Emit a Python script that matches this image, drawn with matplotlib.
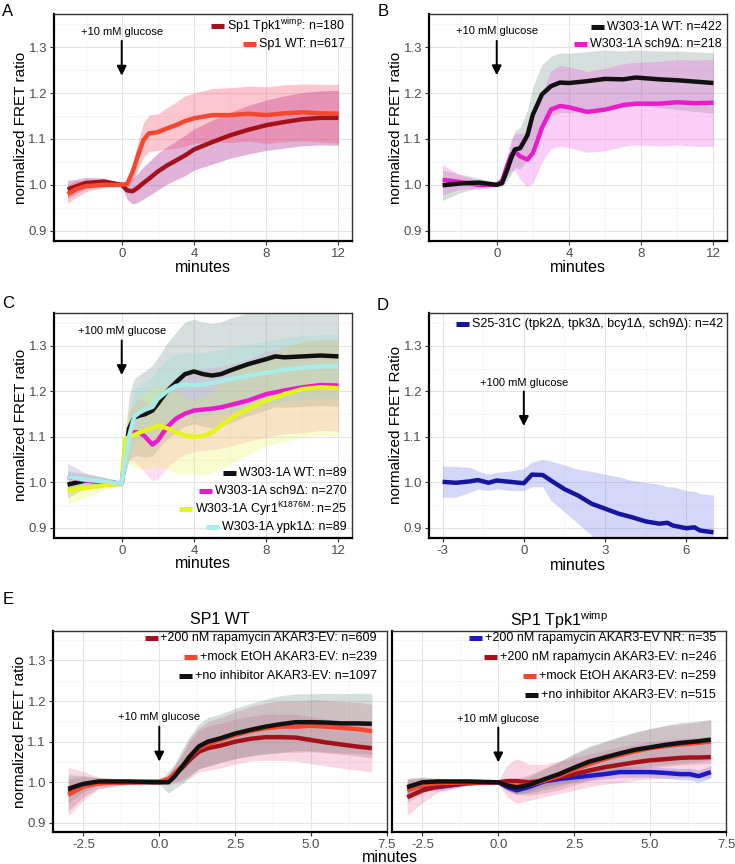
import matplotlib
matplotlib.use("Agg")
import matplotlib.pyplot as plt
import numpy as np
from matplotlib.ticker import FixedLocator
from matplotlib.lines import Line2D

plt.rcParams['font.family'] = ['Liberation Sans', 'DejaVu Sans']
plt.rcParams['mathtext.default'] = 'regular'
plt.rcParams['axes.unicode_minus'] = False

# ---------------- data ----------------
# panel A
tA = [-3, -2.5, -2, -1, 0, 0.3, 0.6, 0.9, 1.2, 1.5, 2, 2.5, 3, 3.5, 4, 5, 6, 7, 8, 9, 10, 11, 12]
a_tpk1 = [0.990, 0.997, 1.004, 1.007, 1.000, 0.988, 0.986, 0.994, 1.004, 1.013, 1.029, 1.042, 1.053,
          1.064, 1.077, 1.093, 1.108, 1.120, 1.130, 1.137, 1.143, 1.146, 1.146]
a_tpk1_err = [0.02, 0.015, 0.012, 0.008, 0.004, 0.02, 0.028, 0.032, 0.035, 0.037, 0.04, 0.041, 0.042,
              0.044, 0.045, 0.048, 0.05, 0.053, 0.055, 0.057, 0.058, 0.059, 0.06]
a_wt = [0.980, 0.991, 0.997, 1.000, 1.000, 1.002, 1.028, 1.064, 1.097, 1.112, 1.115, 1.123, 1.130,
        1.139, 1.145, 1.152, 1.152, 1.155, 1.152, 1.156, 1.158, 1.156, 1.155]
a_wt_err = [0.02, 0.018, 0.012, 0.006, 0.003, 0.006, 0.02, 0.03, 0.038, 0.04, 0.04, 0.045, 0.05,
            0.055, 0.055, 0.058, 0.06, 0.06, 0.062, 0.062, 0.062, 0.063, 0.064]

# panel B
tB = [-3, -2, -1, 0, 0.3, 0.6, 0.8, 1, 1.3, 1.7, 2, 2.5, 3, 3.5, 4, 5, 6, 7, 7.7, 9, 10, 11, 12]
b_wt = [0.999, 1.003, 1.005, 1.000, 1.004, 1.035, 1.058, 1.077, 1.080, 1.108, 1.153, 1.197, 1.215,
        1.223, 1.222, 1.226, 1.231, 1.230, 1.234, 1.230, 1.228, 1.225, 1.222]
b_wt_err = [0.033, 0.02, 0.01, 0.004, 0.008, 0.025, 0.035, 0.04, 0.045, 0.055, 0.06, 0.065, 0.065,
            0.065, 0.065, 0.065, 0.063, 0.062, 0.06, 0.062, 0.064, 0.065, 0.066]
b_sch9 = [1.011, 1.006, 1.000, 1.000, 1.009, 1.044, 1.065, 1.072, 1.062, 1.055, 1.069, 1.124, 1.164,
          1.172, 1.169, 1.159, 1.164, 1.174, 1.177, 1.177, 1.180, 1.178, 1.179]
b_sch9_err = [0.033, 0.015, 0.01, 0.004, 0.01, 0.025, 0.035, 0.04, 0.05, 0.06, 0.065, 0.075, 0.085,
              0.088, 0.088, 0.088, 0.09, 0.09, 0.09, 0.092, 0.093, 0.094, 0.095]

# panel C
tC = [-3, -2, -1, 0, 0.2, 0.4, 0.7, 1, 1.3, 1.7, 2, 2.5, 3, 3.5, 4, 4.5, 5, 5.5, 6, 7, 8, 8.5, 9, 10, 11, 12]
c_wt = [0.995, 1.004, 1.001, 0.997, 1.059, 1.118, 1.143, 1.147, 1.150, 1.158, 1.173, 1.200, 1.220,
        1.238, 1.244, 1.238, 1.235, 1.238, 1.246, 1.260, 1.271, 1.277, 1.275, 1.277, 1.279, 1.277]
c_wt_err = [0.03, 0.015, 0.01, 0.005, 0.04, 0.07, 0.085, 0.09, 0.095, 0.1, 0.1, 0.105, 0.11, 0.115,
            0.115, 0.115, 0.115, 0.115, 0.115, 0.113, 0.112, 0.111, 0.11, 0.11, 0.11, 0.11]
c_sch9 = [1.012, 1.004, 1.000, 0.997, 1.075, 1.100, 1.110, 1.110, 1.100, 1.083, 1.092, 1.121, 1.140,
          1.151, 1.158, 1.160, 1.162, 1.165, 1.170, 1.180, 1.194, 1.198, 1.202, 1.209, 1.214, 1.213]
c_sch9_err = [0.03, 0.015, 0.01, 0.005, 0.03, 0.05, 0.065, 0.075, 0.08, 0.08, 0.085, 0.09, 0.09, 0.09,
              0.09, 0.09, 0.09, 0.09, 0.09, 0.09, 0.095, 0.095, 0.095, 0.1, 0.1, 0.1]
c_cyr1 = [0.982, 0.988, 0.993, 0.997, 1.095, 1.100, 1.104, 1.110, 1.114, 1.120, 1.125, 1.119, 1.110,
          1.103, 1.100, 1.102, 1.110, 1.125, 1.140, 1.162, 1.180, 1.187, 1.194, 1.205, 1.209, 1.207]
c_cyr1_err = [0.03, 0.02, 0.01, 0.005, 0.05, 0.06, 0.07, 0.08, 0.085, 0.09, 0.09, 0.09, 0.09, 0.085,
              0.08, 0.085, 0.09, 0.095, 0.1, 0.1, 0.1, 0.1, 0.105, 0.105, 0.105, 0.105]
c_ypk1 = [1.012, 1.006, 1.002, 0.997, 1.050, 1.100, 1.145, 1.154, 1.160, 1.166, 1.184, 1.200, 1.212,
          1.215, 1.213, 1.215, 1.219, 1.223, 1.227, 1.234, 1.241, 1.244, 1.248, 1.252, 1.255, 1.255]
c_ypk1_err = [0.03, 0.015, 0.01, 0.005, 0.03, 0.05, 0.06, 0.06, 0.06, 0.065, 0.065, 0.07, 0.07, 0.07,
              0.07, 0.07, 0.07, 0.07, 0.07, 0.07, 0.07, 0.07, 0.07, 0.07, 0.07, 0.07]

# panel D
tD = [-3, -2.5, -2, -1.7, -1.3, -1, -0.5, 0, 0.3, 0.7, 1, 1.5, 2, 2.5, 3, 3.5, 4, 4.5, 5, 5.3, 5.5,
      6, 6.3, 6.5, 7]
d_s25 = [1.001, 0.999, 1.002, 1.005, 0.999, 1.004, 1.001, 0.998, 1.017, 1.016, 1.004, 0.985, 0.971,
         0.953, 0.942, 0.931, 0.923, 0.914, 0.909, 0.911, 0.905, 0.899, 0.901, 0.894, 0.890]
d_s25_hi = [1.036, 1.035, 1.033, 1.025, 1.018, 1.022, 1.025, 1.030, 1.045, 1.050, 1.047, 1.038, 1.029,
            1.024, 1.018, 1.012, 1.004, 1.000, 0.996, 0.990, 0.990, 0.982, 0.980, 0.975, 0.972]
d_s25_lo = [0.967, 0.967, 0.978, 0.985, 0.982, 0.985, 0.982, 0.982, 0.990, 0.990, 0.960, 0.935, 0.909,
            0.883, 0.860, 0.850, 0.840, 0.830, 0.820, 0.820, 0.820, 0.810, 0.810, 0.810, 0.810]

# panel E, SP1 WT
tE = [-3, -2.5, -2, -1, 0, 0.3, 0.5, 0.8, 1, 1.3, 1.6, 2, 2.5, 3, 3.5, 4, 4.5, 5, 5.5, 6, 6.5, 7]
e_wt_rapa = [0.977, 0.991, 0.998, 1.000, 1.000, 1.003, 1.018, 1.039, 1.055, 1.075, 1.084, 1.090, 1.100,
             1.107, 1.111, 1.111, 1.110, 1.104, 1.098, 1.093, 1.088, 1.084]
e_wt_rapa_err = [0.06, 0.035, 0.015, 0.005, 0.004, 0.01, 0.02, 0.035, 0.045, 0.05, 0.055, 0.055, 0.055,
                 0.055, 0.057, 0.057, 0.058, 0.058, 0.058, 0.058, 0.058, 0.058]
e_wt_mock = [0.969, 0.989, 0.998, 1.000, 1.002, 1.008, 1.022, 1.043, 1.063, 1.084, 1.094, 1.104, 1.116,
             1.126, 1.133, 1.137, 1.137, 1.139, 1.137, 1.134, 1.131, 1.126]
e_wt_mock_err = [0.04, 0.025, 0.012, 0.005, 0.004, 0.01, 0.02, 0.035, 0.045, 0.05, 0.055, 0.055, 0.058,
                 0.06, 0.062, 0.063, 0.063, 0.064, 0.065, 0.065, 0.066, 0.066]
e_wt_none = [0.984, 0.996, 1.002, 1.002, 1.000, 1.000, 1.014, 1.043, 1.063, 1.088, 1.100, 1.108, 1.120,
             1.129, 1.137, 1.143, 1.148, 1.148, 1.147, 1.145, 1.145, 1.144]
e_wt_none_err = [0.035, 0.02, 0.01, 0.005, 0.004, 0.027, 0.03, 0.045, 0.05, 0.055, 0.06, 0.06, 0.062,
                 0.065, 0.068, 0.07, 0.07, 0.07, 0.072, 0.073, 0.074, 0.075]

# panel E, SP1 Tpk1wimp
tE2 = [-3, -2.5, -2, -1.5, -1, 0, 0.3, 0.6, 1, 1.5, 2, 2.5, 3, 3.5, 4, 4.5, 5, 5.5, 6, 6.3, 6.6, 7]
e_tp_nr = [0.984, 0.992, 0.988, 0.993, 0.998, 1.000, 0.988, 0.980, 0.988, 1.002, 1.008, 1.012, 1.016,
           1.020, 1.025, 1.025, 1.025, 1.023, 1.020, 1.020, 1.015, 1.025]
e_tp_nr_err = [0.015, 0.012, 0.01, 0.008, 0.005, 0.003, 0.008, 0.01, 0.012, 0.012, 0.012, 0.012, 0.012,
               0.012, 0.013, 0.013, 0.013, 0.013, 0.014, 0.014, 0.015, 0.015]
e_tp_rapa = [0.963, 0.980, 0.989, 0.994, 0.998, 1.000, 1.003, 1.003, 1.000, 1.004, 1.012, 1.020, 1.029,
             1.037, 1.043, 1.049, 1.054, 1.057, 1.060, 1.061, 1.061, 1.062]
e_tp_rapa_err = [0.045, 0.03, 0.015, 0.01, 0.006, 0.004, 0.04, 0.055, 0.045, 0.04, 0.04, 0.04, 0.04,
                 0.042, 0.044, 0.045, 0.046, 0.047, 0.048, 0.049, 0.05, 0.05]
e_tp_mock = [0.980, 0.993, 0.998, 0.999, 1.000, 1.000, 0.993, 0.990, 0.993, 1.004, 1.016, 1.031, 1.045,
             1.057, 1.067, 1.076, 1.084, 1.089, 1.093, 1.095, 1.097, 1.100]
e_tp_mock_err = [0.03, 0.02, 0.01, 0.008, 0.006, 0.003, 0.015, 0.02, 0.025, 0.03, 0.035, 0.038, 0.04,
                 0.042, 0.044, 0.046, 0.048, 0.05, 0.05, 0.051, 0.052, 0.053]
e_tp_none = [0.988, 1.000, 1.002, 1.002, 1.002, 1.000, 0.992, 0.987, 0.993, 1.007, 1.020, 1.036, 1.051,
             1.061, 1.071, 1.080, 1.086, 1.092, 1.097, 1.099, 1.101, 1.105]
e_tp_none_err = [0.02, 0.012, 0.008, 0.006, 0.005, 0.003, 0.01, 0.015, 0.02, 0.025, 0.03, 0.035, 0.038,
                 0.04, 0.042, 0.044, 0.046, 0.048, 0.05, 0.05, 0.05, 0.05]

# ---------------- figure ----------------
W, H = 735, 864
fig = plt.figure(figsize=(W / 100, H / 100), dpi=100)


def box(l, t, r, b):
    return [l / W, 1 - b / H, (r - l) / W, (b - t) / H]


def ftext(x, y, s, **kw):
    fig.text(x / W, 1 - y / H, s, **kw)


YLIM = (0.8775, 1.3725)


def style(ax, xlim, xmaj, xmin, xlabels=None, ylabels=True):
    ax.set_xlim(*xlim)
    ax.set_ylim(*YLIM)
    ax.set_xticks(xmaj)
    if xlabels is not None:
        ax.set_xticklabels(xlabels)
    ax.xaxis.set_minor_locator(FixedLocator(xmin))
    ax.set_yticks([0.9, 1.0, 1.1, 1.2, 1.3])
    ax.set_yticklabels(['0.9', '1.0', '1.1', '1.2', '1.3'])
    ax.yaxis.set_minor_locator(FixedLocator([0.95, 1.05, 1.15, 1.25, 1.35]))
    ax.set_axisbelow(True)
    ax.grid(which='major', color='#E4E4E4', lw=0.8)
    ax.grid(which='minor', color='#F1F1F1', lw=0.5)
    ax.tick_params(which='minor', length=0)
    ax.tick_params(which='major', length=3, width=0.8, color='#333333', labelsize=9.5,
                   labelcolor='#4D4D4D', pad=2)
    if not ylabels:
        ax.tick_params(axis='y', labelleft=False, length=0)
    for s in ['left', 'bottom']:
        ax.spines[s].set_linewidth(1.6)
        ax.spines[s].set_color('black')
    for s in ['top', 'right']:
        ax.spines[s].set_linewidth(1.0)
        ax.spines[s].set_color('#333333')


def band(ax, t, y, err, fill, alpha):
    t = np.asarray(t)
    y = np.asarray(y)
    err = np.asarray(err)
    ax.fill_between(t, y - err, y + err, color=fill, alpha=alpha, lw=0, zorder=1)


def curve(ax, t, y, color):
    ax.plot(t, y, color=color, lw=3.2, solid_joinstyle='round', solid_capstyle='butt', zorder=3)


def glucose(ax, text, ytext, y0, y1):
    ax.text(0, ytext, text, ha='center', va='center', fontsize=8)
    ax.annotate('', xy=(0, y1), xytext=(0, y0),
                arrowprops=dict(arrowstyle='-|>', lw=1.4, color='black', mutation_scale=14,
                                shrinkA=0, shrinkB=0))


legend_texts = []


def legend_rows(ax, labels, colors, right_px, rows_px):
    bb = ax.get_position()
    w_px = bb.width * W
    h_px = bb.height * H
    for lab, col, r in zip(labels, colors, rows_px):
        tx = ax.text(1 - right_px / w_px, 1 - r / h_px, lab, transform=ax.transAxes,
                     ha='right', va='center', fontsize=9, zorder=5)
        legend_texts.append((ax, tx, col, 1 - r / h_px))


# A
axA = fig.add_axes(box(54, 14, 352, 241))
band(axA, tA, a_tpk1, a_tpk1_err, '#A91A8D', 0.33)
band(axA, tA, a_wt, a_wt_err, '#F5526E', 0.33)
curve(axA, tA, a_tpk1, '#A3121A')
curve(axA, tA, a_wt, '#F5472D')
style(axA, (-3.75, 12.75), [0, 4, 8, 12], [-2, 2, 6, 10])
glucose(axA, '+10 mM glucose', 1.334, 1.314, 1.238)
legend_rows(axA, ['Sp1 Tpk1$^{wimp}$: n=180', 'Sp1 WT: n=617'], ['#A3121A', '#F5472D'], 7, [12, 30])

# B
axB = fig.add_axes(box(429, 14, 727, 241))
band(axB, tB, b_wt, b_wt_err, '#7A9590', 0.3)
band(axB, tB, b_sch9, b_sch9_err, '#F050E0', 0.28)
curve(axB, tB, b_sch9, '#E81CCB')
curve(axB, tB, b_wt, '#111111')
style(axB, (-3.75, 12.75), [0, 4, 8, 12], [-2, 2, 6, 10])
glucose(axB, '+10 mM glucose', 1.336, 1.314, 1.239)
legend_rows(axB, ['W303-1A WT: n=422', 'W303-1A sch9Δ: n=218'], ['#111111', '#E81CCB'], 5, [13, 30])

# C
axC = fig.add_axes(box(54, 313, 352, 538))
band(axC, tC, c_wt, c_wt_err, '#7A9590', 0.3)
band(axC, tC, c_sch9, c_sch9_err, '#FF68CA', 0.22)
band(axC, tC, c_cyr1, c_cyr1_err, '#E6F53C', 0.25)
band(axC, tC, c_ypk1, c_ypk1_err, '#7FDCDC', 0.22)
curve(axC, tC, c_wt, '#111111')
curve(axC, tC, c_sch9, '#E81CCB')
curve(axC, tC, c_cyr1, '#E3F51A')
curve(axC, tC, c_ypk1, '#A8EBE8')
style(axC, (-3.75, 12.75), [0, 4, 8, 12], [-2, 2, 6, 10])
glucose(axC, '+100 mM glucose', 1.334, 1.312, 1.236)
legend_rows(axC, ['W303-1A WT: n=89', 'W303-1A sch9Δ: n=270', 'W303-1A Cyr1$^{K1876M}$: n=25',
                  'W303-1A ypk1Δ: n=89'],
            ['#111111', '#E81CCB', '#E3F51A', '#A8EBE8'], 5, [160, 178, 196, 214])

# D
axD = fig.add_axes(box(429, 313, 727, 538))
axD.fill_between(tD, d_s25_lo, d_s25_hi, color='#646EE6', alpha=0.27, lw=0, zorder=1)
curve(axD, tD, d_s25, '#15159E')
style(axD, (-3.5, 7.5), [-3, 0, 3, 6], [-1.5, 1.5, 4.5])
glucose(axD, '+100 mM glucose', 1.219, 1.2, 1.124)
legend_rows(axD, ['S25-31C (tpk2Δ, tpk3Δ, bcy1Δ, sch9Δ): n=42'], ['#15159E'], 4, [11])

# E left
eticks = [-2.5, 0, 2.5, 5, 7.5]
elabs = ['-2.5', '0.0', '2.5', '5.0', '7.5']
eminor = [-1.25, 1.25, 3.75, 6.25]
axE1 = fig.add_axes(box(53, 631, 387, 832))
band(axE1, tE, e_wt_rapa, e_wt_rapa_err, '#E8609A', 0.25)
band(axE1, tE, e_wt_mock, e_wt_mock_err, '#C0405A', 0.22)
band(axE1, tE, e_wt_none, e_wt_none_err, '#7A9590', 0.3)
curve(axE1, tE, e_wt_rapa, '#A3121A')
curve(axE1, tE, e_wt_mock, '#F5472D')
curve(axE1, tE, e_wt_none, '#111111')
style(axE1, (-3.5, 7.5), eticks, eminor, elabs)
glucose(axE1, '+10 mM glucose', 1.161, 1.137, 1.051)
legend_rows(axE1, ['+200 nM rapamycin AKAR3-EV: n=609', '+mock EtOH AKAR3-EV: n=239',
                   '+no inhibitor AKAR3-EV: n=1097'],
            ['#A3121A', '#F5472D', '#111111'], 10, [7, 26, 45])

# E right
axE2 = fig.add_axes(box(392, 631, 726, 832))
band(axE2, tE2, e_tp_nr, e_tp_nr_err, '#6470F0', 0.3)
band(axE2, tE2, e_tp_rapa, e_tp_rapa_err, '#E8609A', 0.25)
band(axE2, tE2, e_tp_mock, e_tp_mock_err, '#C0405A', 0.2)
band(axE2, tE2, e_tp_none, e_tp_none_err, '#7A9590', 0.3)
curve(axE2, tE2, e_tp_nr, '#1A1AC8')
curve(axE2, tE2, e_tp_rapa, '#A3121A')
curve(axE2, tE2, e_tp_mock, '#F5472D')
curve(axE2, tE2, e_tp_none, '#111111')
style(axE2, (-3.5, 7.5), eticks, eminor, elabs, ylabels=False)
glucose(axE2, '+10 mM glucose', 1.157, 1.135, 1.049)
legend_rows(axE2, ['+200 nM rapamycin AKAR3-EV NR: n=35', '+200 nM rapamycin AKAR3-EV: n=246',
                   '+mock EtOH AKAR3-EV: n=259', '+no inhibitor AKAR3-EV: n=515'],
            ['#1A1AC8', '#A3121A', '#F5472D', '#111111'], 10, [7, 26, 45, 64])

# axis titles, panel letters, strip titles
ylab_kw = dict(rotation=90, ha='center', va='center', fontsize=11)
ftext(21, 128, 'normalized FRET ratio', **ylab_kw)
ftext(396, 128, 'normalized FRET ratio', **ylab_kw)
ftext(21, 425, 'normalized FRET ratio', **ylab_kw)
ftext(396, 425, 'normalized FRET Ratio', **ylab_kw)
ftext(20, 732, 'normalized FRET ratio', **ylab_kw)
ftext(203, 267, 'minutes', ha='center', va='center', fontsize=11.5)
ftext(578, 268, 'minutes', ha='center', va='center', fontsize=11.5)
ftext(203, 563, 'minutes', ha='center', va='center', fontsize=11.5)
ftext(578, 565, 'minutes', ha='center', va='center', fontsize=11.5)
ftext(390, 857, 'minutes', ha='center', va='center', fontsize=11.5)
ftext(8, 12, 'A', ha='center', va='center', fontsize=12)
ftext(383, 12, 'B', ha='center', va='center', fontsize=12)
ftext(8, 303, 'C', ha='center', va='center', fontsize=12)
ftext(383, 305, 'D', ha='center', va='center', fontsize=12)
ftext(8, 600, 'E', ha='center', va='center', fontsize=12)
ftext(220, 620, 'SP1 WT', ha='center', va='center', fontsize=11.5)
ftext(559, 620, 'SP1 Tpk1$^{wimp}$', ha='center', va='center', fontsize=11.5)

# legend keys next to right-aligned labels
fig.canvas.draw()
r = fig.canvas.get_renderer()
for ax, tx, col, yy in legend_texts:
    ext = tx.get_window_extent(renderer=r)
    axb = ax.get_window_extent(renderer=r)
    x1 = (ext.x0 - 3 - axb.x0) / axb.width
    x0 = (ext.x0 - 16 - axb.x0) / axb.width
    ax.add_line(Line2D([x0, x1], [yy, yy], transform=ax.transAxes, color=col, lw=3.6,
                       solid_capstyle='butt', zorder=5))

fig.savefig('out.png', dpi=100)
